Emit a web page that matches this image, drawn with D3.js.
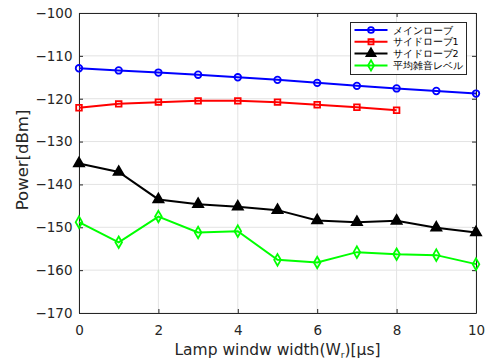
<!DOCTYPE html>
<html>
<head>
<meta charset="utf-8">
<script src="https://cdn.jsdelivr.net/npm/d3@7"></script>
<style>
  body { margin: 0; background: #fff; }
  text { font-family: "DejaVu Sans", sans-serif; }
</style>
</head>
<body>
<div id="chart"></div>
<script>
const xValues = [0, 1, 2, 3, 4, 5, 6, 7, 8, 9, 10];
const mainLobe = [-112.9, -113.4, -113.9, -114.4, -115.0, -115.6, -116.3, -117.0, -117.6, -118.2, -118.8];
const sideLobe1 = [-122.1, -121.2, -120.8, -120.5, -120.5, -120.8, -121.4, -122.0, -122.7];
const sideLobe2 = [-135.1, -137.1, -143.5, -144.6, -145.2, -146.0, -148.4, -148.8, -148.5, -150.1, -151.2];
const noiseLevel = [-148.8, -153.5, -147.5, -151.2, -150.9, -157.6, -158.2, -155.8, -156.3, -156.5, -158.6];
const seriesNames = ["メインローブ", "サイドローブ1", "サイドローブ2", "平均雑音レベル"];
const xTicks = [0, 2, 4, 6, 8, 10];
const yTicks = [-100, -110, -120, -130, -140, -150, -160, -170];

const width = 491;
const height = 361;
const margin = { top: 13, right: 15, bottom: 48, left: 79 };

const svg = d3.select("#chart")
  .append("svg")
  .attr("width", width)
  .attr("height", height);

const x = d3.scaleLinear().domain([0, 10]).range([margin.left, width - margin.right]);
const y = d3.scaleLinear().domain([-170, -100]).range([height - margin.bottom, margin.top]);

const fmt = (d) => String(d).replace("-", "\u2212");

// grid
svg.append("g")
  .selectAll("line")
  .data(xTicks)
  .join("line")
  .attr("x1", (d) => x(d)).attr("x2", (d) => x(d))
  .attr("y1", y(-170)).attr("y2", y(-100))
  .attr("stroke", "#e3e3e3").attr("stroke-width", 1);
svg.append("g")
  .selectAll("line")
  .data(yTicks)
  .join("line")
  .attr("x1", x(0)).attr("x2", x(10))
  .attr("y1", (d) => y(d)).attr("y2", (d) => y(d))
  .attr("stroke", "#e3e3e3").attr("stroke-width", 1);

// axes with inward ticks
const axisBottomG = svg.append("g")
  .attr("transform", `translate(0,${y(-170)})`)
  .call(d3.axisBottom(x).tickValues(xTicks).tickSizeInner(-4).tickSizeOuter(0).tickPadding(12).tickFormat(fmt));
const axisLeftG = svg.append("g")
  .attr("transform", `translate(${x(0)},0)`)
  .call(d3.axisLeft(y).tickValues(yTicks).tickSizeInner(-4).tickSizeOuter(0).tickPadding(6.5).tickFormat(fmt));
const axisTopG = svg.append("g")
  .attr("transform", `translate(0,${y(-100)})`)
  .call(d3.axisTop(x).tickValues(xTicks).tickSizeInner(-4).tickSizeOuter(0).tickFormat(""));
const axisRightG = svg.append("g")
  .attr("transform", `translate(${x(10)},0)`)
  .call(d3.axisRight(y).tickValues(yTicks).tickSizeInner(-4).tickSizeOuter(0).tickFormat(""));

[axisBottomG, axisLeftG, axisTopG, axisRightG].forEach((g) => {
  g.select(".domain").attr("stroke", "#262626");
  g.selectAll(".tick line").attr("stroke", "#262626");
  g.selectAll(".tick text").attr("fill", "#262626").attr("font-size", 13.5);
});

// axis titles
svg.append("text")
  .attr("transform", `translate(28,160) rotate(-90)`)
  .attr("text-anchor", "middle")
  .attr("font-size", 16.5)
  .attr("fill", "#262626")
  .text("Power[dBm]");

const xTitle = svg.append("text")
  .attr("x", (x(0) + x(10)) / 2)
  .attr("y", 355)
  .attr("text-anchor", "middle")
  .attr("font-size", 15.5)
  .attr("fill", "#262626");
xTitle.append("tspan").text("Lamp windw width(W");
xTitle.append("tspan").attr("font-size", 9).attr("dy", 3).text("r");
xTitle.append("tspan").attr("dy", -3).text(")[μs]");

// series
const series = [
  { name: seriesNames[0], values: mainLobe, color: "#0000ff", symbol: d3.symbolCircle, size: 34 },
  { name: seriesNames[1], values: sideLobe1, color: "#ff0000", symbol: d3.symbolSquare, size: 32 },
  { name: seriesNames[2], values: sideLobe2, color: "#000000", symbol: d3.symbolTriangle, size: 44 },
  { name: seriesNames[3], values: noiseLevel, color: "#00ff00", symbol: d3.symbolDiamond, size: 38 }
];

const line = d3.line().x((d) => x(d[0])).y((d) => y(d[1]));

series.forEach((s) => {
  const pts = s.values.map((v, i) => [xValues[i], v]);
  svg.append("path")
    .datum(pts)
    .attr("d", line)
    .attr("fill", "none")
    .attr("stroke", s.color)
    .attr("stroke-width", 2);
  svg.append("g")
    .selectAll("path")
    .data(pts)
    .join("path")
    .attr("transform", (d) => `translate(${x(d[0])},${y(d[1])})`)
    .attr("d", d3.symbol().type(s.symbol).size(s.size))
    .attr("fill", s.symbol === d3.symbolTriangle ? s.color : "none")
    .attr("stroke", s.color)
    .attr("stroke-width", 1.8);
});

// legend
const lg = svg.append("g").attr("transform", "translate(350.5,22.5)");
lg.append("rect")
  .attr("width", 116).attr("height", 52)
  .attr("fill", "#fff").attr("stroke", "#262626").attr("stroke-width", 1);
const item = lg.selectAll("g.item")
  .data(series)
  .join("g")
  .attr("class", "item")
  .attr("transform", (d, i) => `translate(0,${7.5 + i * 11.8})`);
item.append("line")
  .attr("x1", 4).attr("x2", 37)
  .attr("stroke", (d) => d.color).attr("stroke-width", 2);
item.append("path")
  .attr("transform", "translate(20.5,0)")
  .attr("d", (d) => d3.symbol().type(d.symbol).size(d.size * 0.8)())
  .attr("fill", (d) => d.symbol === d3.symbolTriangle ? d.color : "none")
  .attr("stroke", (d) => d.color)
  .attr("stroke-width", 1.8);
item.append("text")
  .attr("x", 42).attr("y", 3.5)
  .attr("font-size", 9.5)
  .attr("font-family", "'Noto Sans CJK JP', sans-serif")
  .attr("fill", "#000")
  .text((d) => d.name);
</script>
</body>
</html>
